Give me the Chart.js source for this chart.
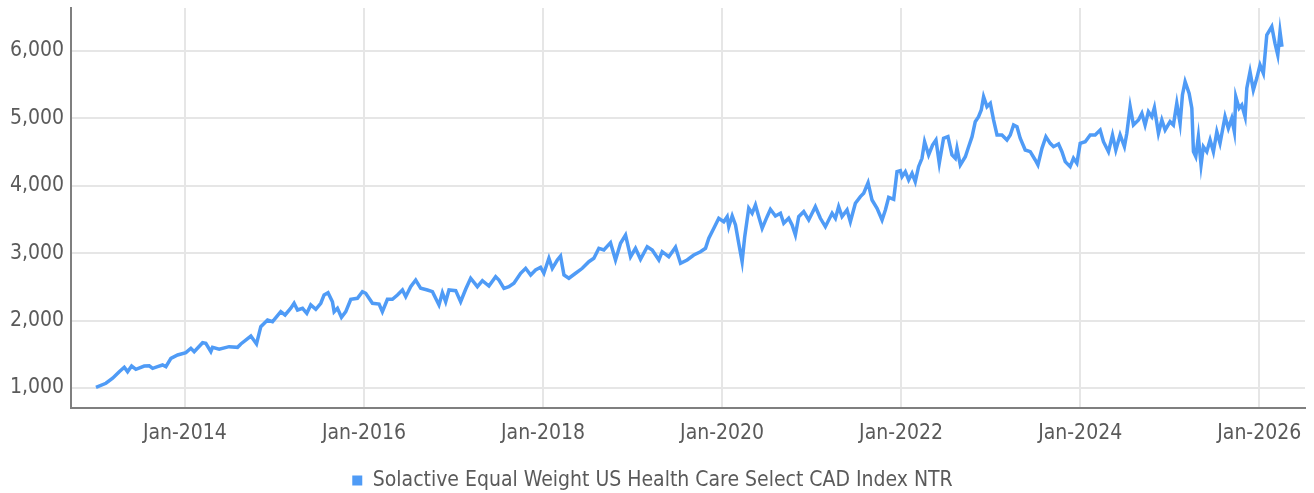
<!DOCTYPE html>
<html>
<head>
<meta charset="utf-8">
<script src="https://cdn.jsdelivr.net/npm/chart.js@4"></script>
<style>
  html, body { margin: 0; padding: 0; background: #ffffff; }
  #wrap { width: 1314px; height: 493px; }
</style>
</head>
<body>
<div id="wrap"><canvas id="chart" width="1314" height="493"></canvas></div>
<script>
const seriesLabel = 'Solactive Equal Weight US Health Care Select CAD Index NTR';

// dates as decimal years
const dates = [
  2013.007, 2013.118, 2013.193, 2013.267, 2013.323, 2013.360, 2013.405, 2013.453, 2013.546, 2013.602,
  2013.640, 2013.695, 2013.751, 2013.788, 2013.844, 2013.919, 2014.011, 2014.067, 2014.104, 2014.198,
  2014.234, 2014.290, 2014.309, 2014.383, 2014.494, 2014.588, 2014.625, 2014.737, 2014.800, 2014.848,
  2014.923, 2014.979, 2015.071, 2015.119, 2015.183, 2015.220, 2015.258, 2015.314, 2015.362, 2015.406,
  2015.462, 2015.518, 2015.555, 2015.599, 2015.648, 2015.667, 2015.704, 2015.749, 2015.797, 2015.853,
  2015.927, 2015.983, 2016.020, 2016.057, 2016.095, 2016.169, 2016.206, 2016.262, 2016.318, 2016.374,
  2016.430, 2016.467, 2016.522, 2016.578, 2016.634, 2016.709, 2016.765, 2016.838, 2016.876, 2016.913,
  2016.950, 2017.025, 2017.080, 2017.136, 2017.192, 2017.267, 2017.323, 2017.396, 2017.471, 2017.508,
  2017.564, 2017.619, 2017.675, 2017.750, 2017.806, 2017.862, 2017.917, 2017.973, 2018.010, 2018.066,
  2018.104, 2018.160, 2018.196, 2018.234, 2018.289, 2018.364, 2018.439, 2018.512, 2018.568, 2018.624,
  2018.680, 2018.754, 2018.810, 2018.866, 2018.922, 2018.978, 2019.033, 2019.089, 2019.164, 2019.220,
  2019.294, 2019.331, 2019.405, 2019.480, 2019.536, 2019.610, 2019.684, 2019.759, 2019.815, 2019.852,
  2019.908, 2019.963, 2020.019, 2020.057, 2020.075, 2020.113, 2020.150, 2020.186, 2020.224, 2020.253,
  2020.298, 2020.336, 2020.373, 2020.410, 2020.448, 2020.503, 2020.540, 2020.596, 2020.652, 2020.689,
  2020.744, 2020.782, 2020.819, 2020.856, 2020.912, 2020.968, 2021.042, 2021.098, 2021.154, 2021.229,
  2021.266, 2021.302, 2021.340, 2021.396, 2021.433, 2021.489, 2021.545, 2021.582, 2021.631, 2021.675,
  2021.731, 2021.787, 2021.824, 2021.861, 2021.917, 2021.954, 2021.991, 2022.010, 2022.047, 2022.084,
  2022.122, 2022.158, 2022.195, 2022.233, 2022.262, 2022.307, 2022.351, 2022.389, 2022.426, 2022.474,
  2022.523, 2022.568, 2022.605, 2022.624, 2022.661, 2022.717, 2022.754, 2022.792, 2022.828, 2022.865,
  2022.895, 2022.921, 2022.959, 2022.996, 2023.033, 2023.071, 2023.126, 2023.182, 2023.219, 2023.256,
  2023.294, 2023.330, 2023.386, 2023.442, 2023.498, 2023.528, 2023.573, 2023.617, 2023.665, 2023.702,
  2023.758, 2023.796, 2023.833, 2023.888, 2023.925, 2023.963, 2024.000, 2024.056, 2024.112, 2024.167,
  2024.223, 2024.260, 2024.316, 2024.361, 2024.398, 2024.446, 2024.494, 2024.521, 2024.558, 2024.595,
  2024.651, 2024.689, 2024.725, 2024.762, 2024.800, 2024.829, 2024.874, 2024.912, 2024.949, 2025.004,
  2025.041, 2025.079, 2025.116, 2025.142, 2025.172, 2025.217, 2025.247, 2025.265, 2025.291, 2025.320,
  2025.350, 2025.376, 2025.414, 2025.451, 2025.488, 2025.526, 2025.562, 2025.618, 2025.655, 2025.693,
  2025.722, 2025.738, 2025.775, 2025.805, 2025.842, 2025.861, 2025.897, 2025.934, 2025.972, 2026.009,
  2026.046, 2026.084, 2026.140, 2026.176, 2026.207, 2026.232, 2026.254
];

const values = [
  1010, 1070, 1144, 1242, 1307, 1242, 1326, 1277, 1326, 1330,
  1292, 1316, 1341, 1316, 1440, 1490, 1524, 1589, 1539, 1672,
  1663, 1539, 1603, 1574, 1613, 1603, 1653, 1771, 1653, 1910,
  2009, 1984, 2132, 2083, 2183, 2257, 2157, 2183, 2108, 2232,
  2168, 2257, 2380, 2414, 2280, 2132, 2183, 2049, 2132, 2316,
  2331, 2429, 2405, 2331, 2257, 2246, 2132, 2316, 2316, 2380,
  2454, 2355, 2503, 2602, 2479, 2454, 2429, 2232, 2414, 2280,
  2454, 2444, 2280, 2464, 2628, 2503, 2592, 2513, 2651, 2602,
  2479, 2503, 2553, 2702, 2776, 2677, 2751, 2791, 2702, 2924,
  2776, 2899, 2958, 2677, 2628, 2702, 2776, 2874, 2924, 3073,
  3048, 3156, 2899, 3147, 3270, 2948, 3073, 2909, 3096, 3048,
  2899, 3022, 2948, 3088, 2850, 2899, 2973, 3022, 3073, 3221,
  3369, 3518, 3467, 3542, 3393, 3552, 3418, 3147, 2874, 3245,
  3666, 3592, 3715, 3542, 3369, 3542, 3651, 3552, 3592, 3444,
  3518, 3418, 3270, 3542, 3616, 3493, 3690, 3518, 3393, 3592,
  3518, 3690, 3542, 3641, 3467, 3740, 3839, 3889, 4046, 3789,
  3666, 3493, 3641, 3829, 3800, 4209, 4224, 4135, 4209, 4086,
  4186, 4061, 4284, 4408, 4654, 4457, 4605, 4680, 4334, 4705,
  4729, 4457, 4408, 4556, 4309, 4432, 4580, 4729, 4951, 5025,
  5125, 5322, 5174, 5224, 4976, 4754, 4754, 4680, 4754, 4902,
  4877, 4705, 4531, 4506, 4383, 4309, 4556, 4729, 4630, 4580,
  4620, 4506, 4358, 4284, 4408, 4334, 4630, 4654, 4754, 4754,
  4828, 4654, 4506, 4754, 4531, 4754, 4580, 4779, 5174, 4902,
  4976, 5076, 4902, 5100, 5025, 5159, 4779, 4976, 4828, 4951,
  4902, 5224, 4926, 5347, 5545, 5372, 5150, 4506, 4432, 4729,
  4309, 4580, 4506, 4680, 4506, 4803, 4630, 5025, 4853, 5001,
  4803, 5322, 5150, 5199, 5025, 5447, 5693, 5421, 5594, 5792,
  5669, 6237, 6361, 6114, 5940, 6287, 6064
];

const xTickYears = [2014, 2016, 2018, 2020, 2022, 2024, 2026];
const yTickValues = [1000, 2000, 3000, 4000, 5000, 6000];

const points = dates.map((d, i) => ({ x: d, y: values[i] }));

const fontFamily = "'DejaVu Sans Condensed', 'DejaVu Sans', sans-serif";
const textColor = '#5a5a5a';

new Chart(document.getElementById('chart'), {
  type: 'line',
  data: {
    datasets: [{
      label: seriesLabel,
      data: points,
      borderColor: '#4f9bf6',
      backgroundColor: '#4f9bf6',
      borderWidth: 3.5,
      pointRadius: 0,
      tension: 0
    }]
  },
  options: {
    responsive: false,
    animation: false,
    layout: { padding: { top: 8, right: 9, left: 0, bottom: -8 } },
    scales: {
      x: {
        type: 'linear',
        min: 2012.728,
        max: 2026.511,
        afterBuildTicks: (scale) => {
          scale.ticks = xTickYears.map(v => ({ value: v }));
        },
        afterFit: (scale) => {
          scale.height = 52;
          scale.paddingLeft = 0;
          scale.paddingRight = 0;
        },
        ticks: {
          color: textColor,
          font: { family: fontFamily, size: 21 },
          padding: 13,
          maxRotation: 0,
          autoSkip: false,
          callback: (v) => 'Jan-' + v
        },
        grid: { color: '#e6e6e6', lineWidth: 2, drawTicks: false },
        border: { color: '#7f7f7f', width: 2 }
      },
      y: {
        min: 703,
        max: 6638,
        afterBuildTicks: (scale) => {
          scale.ticks = yTickValues.map(v => ({ value: v }));
        },
        afterFit: (scale) => {
          scale.width = 71;
          scale.paddingTop = 0;
          scale.paddingBottom = 0;
        },
        ticks: {
          color: textColor,
          font: { family: fontFamily, size: 21 },
          padding: 7,
          callback: (v) => v.toLocaleString('en-US')
        },
        grid: { color: '#e6e6e6', lineWidth: 2, drawTicks: false },
        border: { color: '#7f7f7f', width: 2 }
      }
    },
    plugins: {
      legend: {
        position: 'bottom',
        labels: {
          color: textColor,
          font: { family: fontFamily, size: 21 },
          boxWidth: 10,
          boxHeight: 10,
          padding: 10,
          generateLabels: (chart) =>
            Chart.defaults.plugins.legend.labels.generateLabels(chart)
              .map(item => ({ ...item, lineWidth: 0 }))
        }
      },
      tooltip: { enabled: false }
    }
  }
});
</script>
</body>
</html>
